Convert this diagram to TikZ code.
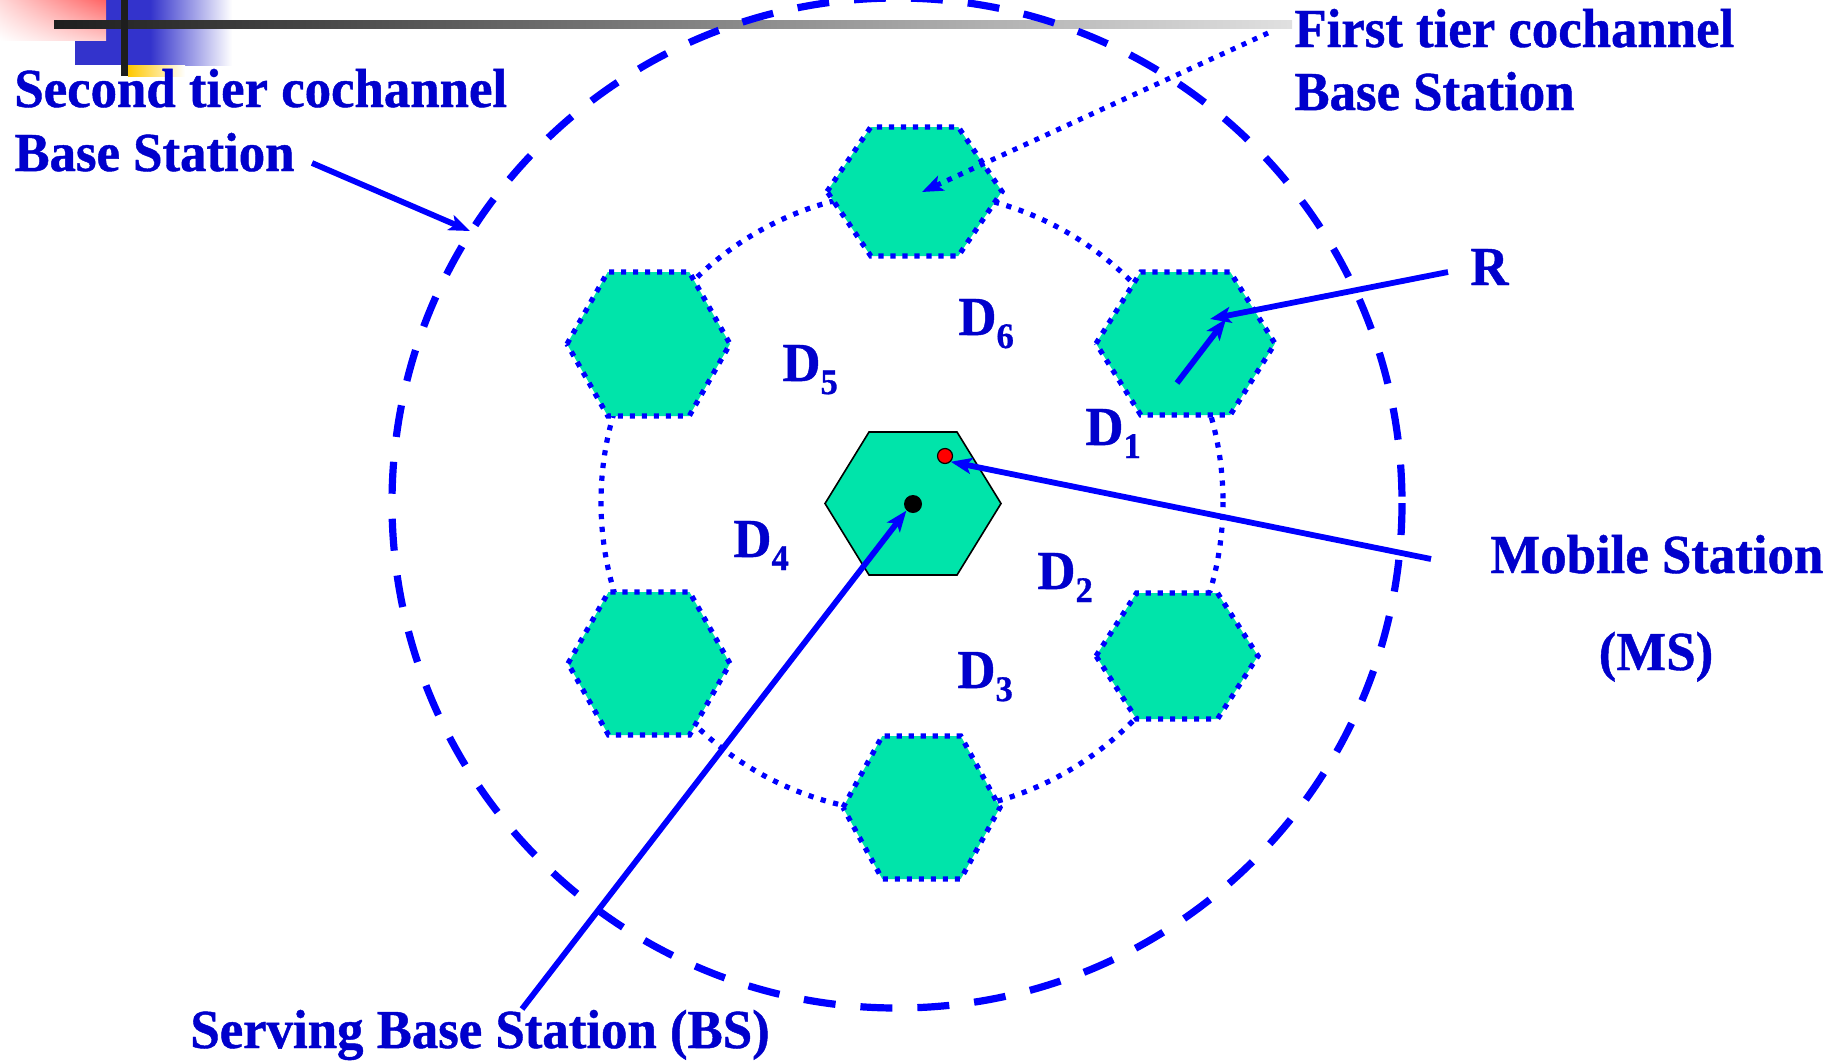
\documentclass[tikz,border=0pt]{standalone}
\usepackage{fontspec}
\setmainfont{Liberation Serif}[FakeStretch=0.96,BoldFeatures={FakeBold=0.8}]
\usetikzlibrary{arrows.meta,shadings}
\definecolor{txtblue}{RGB}{0,0,204}
\definecolor{lineblue}{RGB}{0,0,255}
\definecolor{hexfill}{RGB}{0,228,170}
\definecolor{decoblue}{RGB}{51,51,204}
\definecolor{decored}{RGB}{255,100,100}
\definecolor{decoyellow}{RGB}{255,200,0}
\definecolor{decodark}{RGB}{30,30,30}
\newcommand{\hexat}[5]{%
  \path[#1] ({#2-#4},{#3}) -- ({#2-#4/2},{#3-#5}) -- ({#2+#4/2},{#3-#5})
    -- ({#2+#4},{#3}) -- ({#2+#4/2},{#3+#5}) -- ({#2-#4/2},{#3+#5}) -- cycle;}
\newcommand{\Dlab}[1]{D\raisebox{-6.5pt}{\fontsize{18}{18}\selectfont #1}}
\begin{document}
\begin{tikzpicture}[x=0.5pt,y=-0.5pt,
  lbl/.style={text=txtblue,font=\fontsize{27.5}{30}\selectfont\bfseries,inner sep=0pt,anchor=base west},
  arr/.style={draw=lineblue,line width=2.9pt,-{Stealth[length=10.5pt,width=8pt,inset=2.5pt]}},
  dotarr/.style={draw=lineblue,line width=2.5pt,dash pattern=on 2.5pt off 3.5pt,-{Stealth[length=10.5pt,width=8pt,inset=2.5pt]}},
  tierhex/.style={fill=hexfill,draw=lineblue,line width=2.6pt,dash pattern=on 2.6pt off 3.4pt},
  servhex/.style={fill=hexfill,draw=black,line width=0.8pt},
  tiercircle/.style={draw=lineblue,line width=2.6pt,dash pattern=on 2.6pt off 3.8pt},
  outercircle/.style={draw=lineblue,line width=3.6pt,dash pattern=on 16pt off 12.5pt}]
\useasboundingbox (0,0) rectangle (1839,1061);
\clip (0,0) rectangle (1839,1061);
\fill[white] (0,0) rectangle (1839,1061);
% corner decoration
\fill[decoblue] (75,0) rectangle (150,65);
\shade[left color=decoblue,right color=white] (150,0) rectangle (232,65);
\shade[upper right=decored,upper left=decored!25!white,lower right=decored!35!white,lower left=white] (0,0) rectangle (106,40);
\shade[left color=decoyellow,right color=white] (128,65) rectangle (185,76);
\shade[left color=decodark,right color=black!12] (54,20) rectangle (1292,28);
\fill[decodark] (121,0) rectangle (128,76);
% circles
\coordinate (oc) at (897,503);
\coordinate (ic) at (912,502);
\path[outercircle] (oc) circle[radius=505];
\path[tiercircle] (ic) circle[radius=311];
% hexagons
\hexat{tierhex}{914.5}{191.5}{87.5}{64.5}
\hexat{tierhex}{648.5}{344}{81.5}{72}
\hexat{tierhex}{1185.5}{343.5}{89.5}{71.5}
\hexat{tierhex}{1177}{656}{81}{63}
\hexat{tierhex}{649}{663.5}{81}{71.5}
\hexat{tierhex}{921.5}{807.5}{78.5}{71.5}
\hexat{servhex}{913}{503.5}{88}{71.5}
% stations
\node[circle,fill=black,inner sep=0pt,minimum size=9pt] (bs) at (913,504) {};
\node[circle,fill=red,draw=black,line width=0.6pt,inner sep=0pt,minimum size=7.5pt] (ms) at (945,456) {};
% arrow endpoints
\coordinate (a2s) at (312,163);
\coordinate (a2e) at (470,231);
\coordinate (a1s) at (1268,33);
\coordinate (a1e) at (922,192);
\coordinate (ars) at (1448,272);
\coordinate (are) at (1210,319);
\coordinate (rads) at (1177,383);
\coordinate (rade) at (1226,319);
\coordinate (mss) at (1431,559);
\coordinate (bss) at (522,1009);
% arrows
\draw[arr] (a2s) -- (a2e);
\draw[dotarr] (a1s) -- (a1e);
\draw[arr] (ars) -- (are);
\draw[arr] (rads) -- (rade);
\draw[arr] (mss) -- (ms.south east);
\draw[arr] (bss) -- (bs.south west);
% labels
\node[lbl] (st1) at (14,107) {Second tier cochannel};
\node[lbl] (st2) at (14,171) {Base Station};
\node[lbl] (ft1) at (1294,47) {First tier cochannel};
\node[lbl] (ft2) at (1294,110) {Base Station};
\node[lbl] (rl) at (1470,285) {R};
\node[lbl] (ms1) at (1490,573) {Mobile Station};
\node[lbl,anchor=base] (ms2) at (1656,670) {(MS)};
\node[lbl] (sbs) at (190,1048) {Serving Base Station (BS)};
\node[lbl] (d1) at (1085,445) {\Dlab{1}};
\node[lbl] (d2) at (1037,589) {\Dlab{2}};
\node[lbl] (d3) at (957,688) {\Dlab{3}};
\node[lbl] (d4) at (733,557) {\Dlab{4}};
\node[lbl] (d5) at (782,381) {\Dlab{5}};
\node[lbl] (d6) at (958,335) {\Dlab{6}};
\end{tikzpicture}
\end{document}
